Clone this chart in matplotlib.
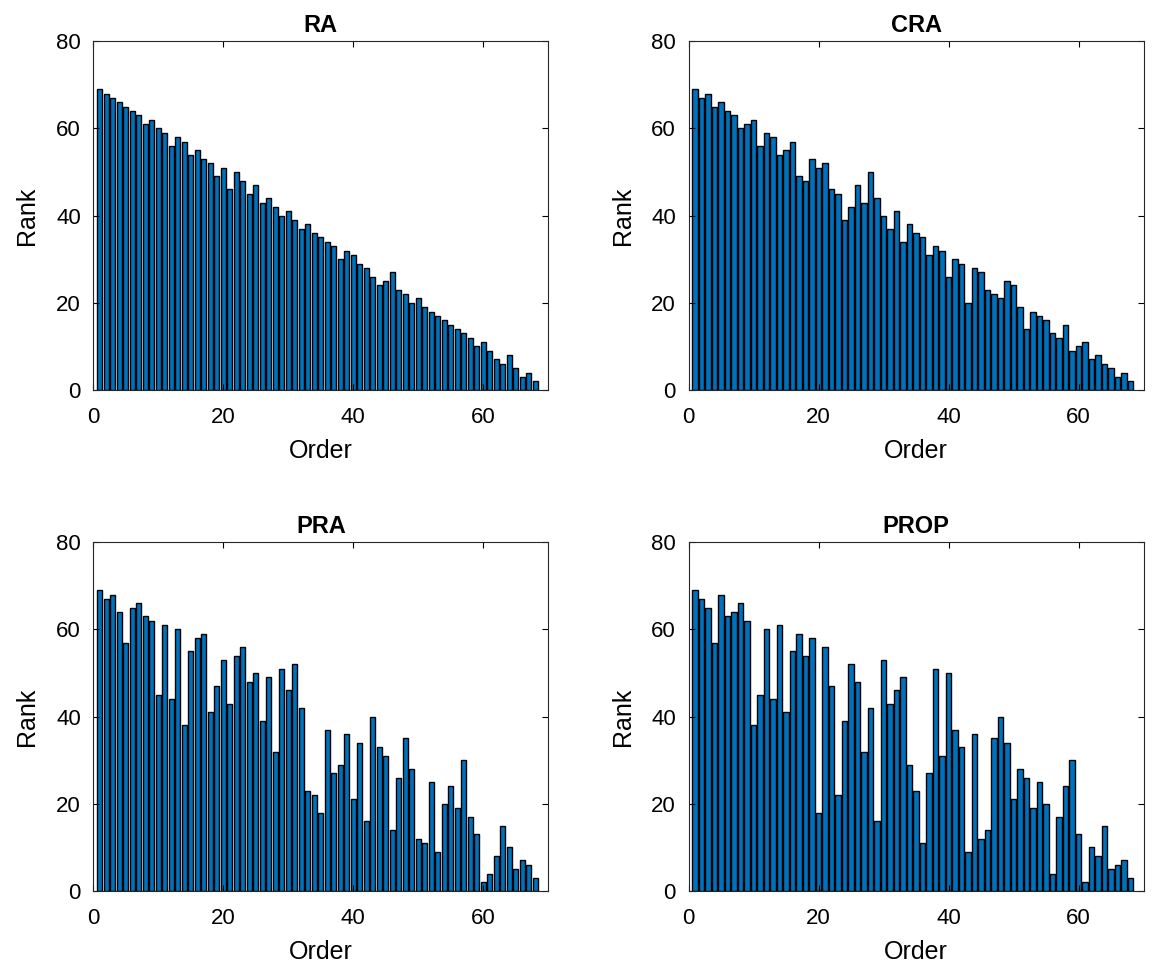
import matplotlib
matplotlib.use("Agg")
import matplotlib.pyplot as plt
import numpy as np

plt.rcParams['font.family'] = ['Liberation Sans', 'DejaVu Sans']

titles = ["RA", "CRA", "PRA", "PROP"]

ra = [69, 68, 67, 66, 65, 64, 63, 61, 62, 60, 59, 56, 58, 57, 54, 55, 53, 52, 49, 51,
      46, 50, 48, 45, 47, 43, 44, 42, 40, 41, 39, 37, 38, 36, 35, 34, 33, 30, 32, 31,
      29, 28, 26, 24, 25, 27, 23, 22, 20, 21, 19, 18, 17, 16, 15, 14, 13, 12, 10, 11,
      9, 7, 6, 8, 5, 3, 4, 2]
cra = [69, 67, 68, 65, 66, 64, 63, 60, 61, 62, 56, 59, 58, 54, 55, 57, 49, 48, 53, 51,
       52, 46, 45, 39, 42, 47, 43, 50, 44, 40, 37, 41, 34, 38, 36, 35, 31, 33, 32, 26,
       30, 29, 20, 28, 27, 23, 22, 21, 25, 24, 19, 14, 18, 17, 16, 13, 12, 15, 9, 10,
       11, 7, 8, 6, 5, 3, 4, 2]
pra = [69, 67, 68, 64, 57, 65, 66, 63, 62, 45, 61, 44, 60, 38, 55, 58, 59, 41, 47, 53,
       43, 54, 56, 48, 50, 39, 49, 32, 51, 46, 52, 42, 23, 22, 18, 37, 27, 29, 36, 21,
       34, 16, 40, 33, 31, 14, 26, 35, 28, 12, 11, 25, 9, 20, 24, 19, 30, 17, 13, 2,
       4, 8, 15, 10, 5, 7, 6, 3]
prop = [69, 67, 65, 57, 68, 63, 64, 66, 62, 38, 45, 60, 44, 61, 41, 55, 59, 54, 58, 18,
        56, 47, 22, 39, 52, 48, 32, 42, 16, 53, 43, 46, 49, 29, 23, 11, 27, 51, 31, 50,
        37, 33, 9, 36, 12, 14, 35, 40, 34, 21, 28, 26, 19, 25, 20, 4, 17, 24, 30, 13,
        2, 10, 8, 15, 5, 6, 7, 3]

series = [ra, cra, pra, prop]
x_ticks = [0, 20, 40, 60]
y_ticks = [0, 20, 40, 60, 80]

W, H = 1152, 965
fig = plt.figure(figsize=(W / 100, H / 100), dpi=100)

# axes boxes in pixels: (left, top, right, bottom)
boxes = [(93.3, 41.3, 548.3, 390.0), (688.5, 41.3, 1143.5, 390.0),
         (93.3, 542.3, 548.3, 891.0), (688.5, 542.3, 1143.5, 891.0)]

for vals, title, (l, t, r, b) in zip(series, titles, boxes):
    ax = fig.add_axes([l / W, (H - b) / H, (r - l) / W, (b - t) / H])
    x = np.arange(1, len(vals) + 1)
    ax.bar(x, vals, width=0.8, color='#0072BD', edgecolor='black', linewidth=1.0)
    ax.set_xlim(0, 70)
    ax.set_ylim(0, 80)
    ax.set_xticks(x_ticks)
    ax.set_yticks(y_ticks)
    ax.tick_params(direction='in', top=True, right=True, length=4, width=0.8,
                   labelsize=16, colors='black')
    ax.tick_params(axis='x', pad=12)
    ax.tick_params(axis='y', pad=9)
    for s in ax.spines.values():
        s.set_linewidth(0.8)
        s.set_color('#262626')
    ax.set_xlabel('Order', fontsize=18, labelpad=8)
    ax.set_ylabel('Rank', fontsize=18, labelpad=12)
    ax.set_title(title, fontsize=17, fontweight='bold', pad=7)

fig.savefig('out.png', dpi=100)
